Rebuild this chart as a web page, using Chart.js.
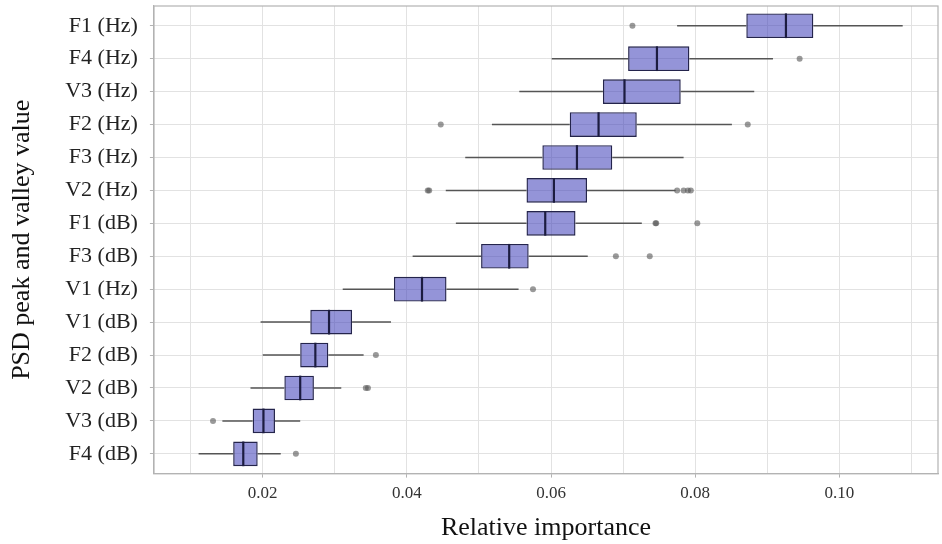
<!DOCTYPE html>
<html>
<head>
<meta charset="utf-8">
<script src="https://cdn.jsdelivr.net/npm/chart.js@4.4.1/dist/chart.umd.min.js"></script>
<style>
body{margin:0;background:#fff}
#wrap{width:942px;height:544px}
</style>
</head>
<body>
<div id="wrap"><canvas id="graph1"></canvas></div>
<script>
// values, top row first
const features = ['F1 (Hz)','F4 (Hz)','V3 (Hz)','F2 (Hz)','F3 (Hz)','V2 (Hz)','F1 (dB)',
    'F3 (dB)','V1 (Hz)','V1 (dB)','F2 (dB)','V2 (dB)','V3 (dB)','F4 (dB)']
const whiskLow  = [0.0775,0.0601,0.0556,0.0518,0.0481,0.0454,0.0468,0.0408,0.0311,0.0197,0.0200,0.0183,0.0144,0.0111]
const q1        = [0.0871,0.0707,0.0672,0.0626,0.0588,0.0566,0.0566,0.0503,0.0382,0.0266,0.0252,0.0230,0.0186,0.0159]
const medians   = [0.0926,0.0747,0.0702,0.0666,0.0636,0.0604,0.0592,0.0542,0.0421,0.0292,0.0273,0.0252,0.0201,0.0173]
const q3        = [0.0964,0.0792,0.0780,0.0719,0.0685,0.0650,0.0634,0.0569,0.0455,0.0324,0.0291,0.0271,0.0217,0.0193]
const whiskHigh = [0.1088,0.0908,0.0882,0.0851,0.0784,0.0773,0.0726,0.0651,0.0555,0.0378,0.0340,0.0309,0.0252,0.0225]
const outliers = [
    [0.0713],
    [0.0945],
    [],
    [0.0447,0.0873],
    [],
    [0.0429,0.0431,0.0775,0.0784,0.0790,0.0794],
    [0.0745,0.0746,0.0803],
    [0.0690,0.0737],
    [0.0575],
    [],
    [0.0357],
    [0.0343,0.0346],
    [0.0131],
    [0.0246]
]
const xTicks = [0.01,0.02,0.03,0.04,0.05,0.06,0.07,0.08,0.09,0.10,0.11]
const xLabeled = [0.02,0.04,0.06,0.08,0.10]

const serif = "'Liberation Serif', 'DejaVu Serif', serif"

const boxes = features.map(function (f, i) { return {y: i, x: [q1[i], q3[i]]} })
const outPts = []
outliers.forEach(function (list, i) {
    list.forEach(function (v) { outPts.push({x: v, y: i}) })
})

function isLabeled(v) {
    return xLabeled.some(function (t) { return Math.abs(t - v) < 1e-6 })
}

// labels sit inside the range, so no extra room is needed at the ends
function noEdgePad(s) {
    s.paddingTop = 0
    s.paddingBottom = 0
    s.paddingLeft = 0
    s.paddingRight = 0
}

// whiskers, medians and the panel frame
const boxParts = {
    id: 'boxParts',
    beforeDatasetsDraw: function (chart) {
        const ctx = chart.ctx, xs = chart.scales.x, ys = chart.scales.y
        ctx.save()
        ctx.strokeStyle = '#555555'
        ctx.lineWidth = 1.5
        features.forEach(function (f, i) {
            const y = ys.getPixelForValue(i)
            ctx.beginPath()
            ctx.moveTo(xs.getPixelForValue(whiskLow[i]), y)
            ctx.lineTo(xs.getPixelForValue(q1[i]), y)
            ctx.moveTo(xs.getPixelForValue(q3[i]), y)
            ctx.lineTo(xs.getPixelForValue(whiskHigh[i]), y)
            ctx.stroke()
        })
        ctx.restore()
    },
    afterDatasetsDraw: function (chart) {
        const ctx = chart.ctx, xs = chart.scales.x, ys = chart.scales.y
        const bars = chart.getDatasetMeta(0).data
        ctx.save()
        ctx.strokeStyle = '#1c1c40'
        ctx.lineWidth = 2.2
        features.forEach(function (f, i) {
            const y = ys.getPixelForValue(i)
            const h = bars[i].height / 2
            const x = xs.getPixelForValue(medians[i])
            ctx.beginPath()
            ctx.moveTo(x, y - h)
            ctx.lineTo(x, y + h)
            ctx.stroke()
        })
        const a = chart.chartArea
        ctx.strokeStyle = '#b3b3b3'
        ctx.lineWidth = 1.2
        ctx.strokeRect(a.left, a.top, a.right - a.left, a.bottom - a.top)
        ctx.restore()
    }
}

const config = {
    data: {
        datasets: [{
            type: 'bar',
            indexAxis: 'y',
            data: boxes,
            backgroundColor: 'rgba(65,65,185,0.56)',
            borderColor: '#24244c',
            borderWidth: 1.4,
            borderSkipped: false,
            categoryPercentage: 1,
            barPercentage: 0.75
        }, {
            type: 'scatter',
            data: outPts,
            pointRadius: 3,
            pointBorderWidth: 0,
            pointBackgroundColor: 'rgba(85,85,85,0.6)'
        }]
    },
    options: {
        responsive: true,
        maintainAspectRatio: false,
        animation: false,
        layout: {padding: {top: 6, right: 1, left: 7, bottom: 3}},
        plugins: {
            legend: {display: false},
            tooltip: {enabled: false}
        },
        scales: {
            x: {
                type: 'linear',
                min: 0.0049,
                max: 0.1137,
                afterBuildTicks: function (s) {
                    s.ticks = xTicks.map(function (v) { return {value: v} })
                },
                afterFit: noEdgePad,
                ticks: {
                    autoSkip: false,
                    maxRotation: 0,
                    padding: 6,
                    color: '#333333',
                    font: {family: serif, size: 17},
                    callback: function (v) {
                        return isLabeled(v) ? v.toFixed(2) : ''
                    }
                },
                grid: {
                    color: '#e2e2e2',
                    lineWidth: 1,
                    tickLength: 4,
                    tickColor: function (c) {
                        const v = c.tick ? c.tick.value : 0
                        return isLabeled(v) ? '#b3b3b3' : 'rgba(0,0,0,0)'
                    }
                },
                border: {color: '#b3b3b3', width: 1.2},
                title: {
                    display: true,
                    text: 'Relative importance',
                    color: '#111111',
                    font: {family: serif, size: 26, lineHeight: 1},
                    padding: {top: 5, bottom: 0}
                }
            },
            y: {
                type: 'linear',
                min: -0.6,
                max: 13.6,
                reverse: true,
                offset: false,
                afterBuildTicks: function (s) {
                    s.ticks = features.map(function (f, i) { return {value: i} })
                },
                afterFit: noEdgePad,
                ticks: {
                    autoSkip: false,
                    padding: 12,
                    color: '#222222',
                    font: {family: serif, size: 22},
                    callback: function (v) { return features[v] }
                },
                grid: {
                    offset: false,
                    color: '#e2e2e2',
                    lineWidth: 1,
                    tickLength: 4,
                    tickColor: '#b3b3b3'
                },
                border: {color: '#b3b3b3', width: 1.2},
                title: {
                    display: true,
                    text: 'PSD peak and valley value',
                    color: '#111111',
                    font: {family: serif, size: 26},
                    padding: {top: 0, bottom: 15}
                }
            }
        }
    },
    plugins: [boxParts]
}

const myChart = new Chart(document.querySelector('#graph1'), config)
</script>
</body>
</html>
